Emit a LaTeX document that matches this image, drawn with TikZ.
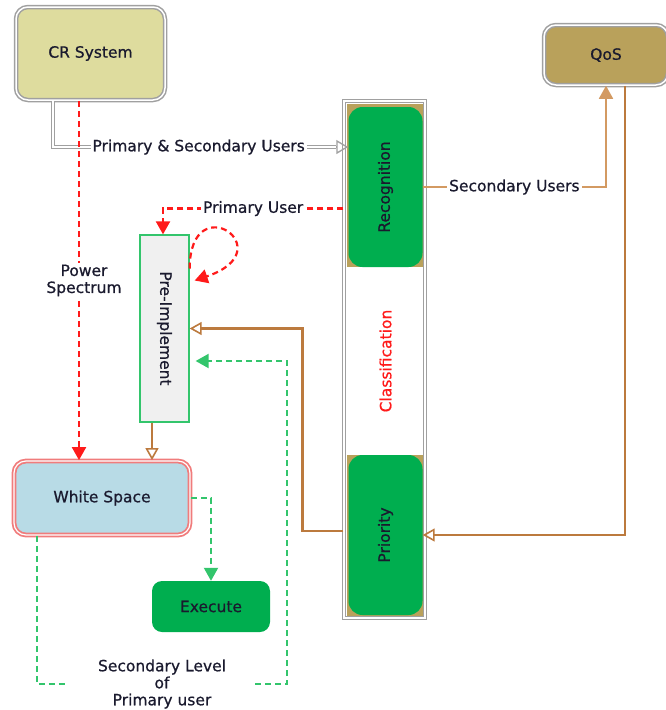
\documentclass[tikz,border=0pt]{standalone}
\usepackage{fontspec}
\setmainfont{DejaVu Sans}[RawFeature={embolden=0.7}]
\usetikzlibrary{arrows.meta,calc}
\definecolor{crfill}{HTML}{DEDC9E}
\definecolor{tan}{HTML}{B9A15B}
\definecolor{grn}{HTML}{00AE4F}
\definecolor{prefill}{HTML}{F0F0F0}
\definecolor{wsfill}{HTML}{B8DBE6}
\definecolor{wsred}{HTML}{F07C7C}
\definecolor{brownc}{HTML}{BC7A3E}
\definecolor{brownl}{HTML}{D39A62}
\definecolor{greend}{HTML}{33C56C}
\definecolor{redc}{HTML}{FF1A1A}
\definecolor{txt}{HTML}{1A1A2E}
\definecolor{dgray}{HTML}{A0A0A0}
\begin{document}
\begin{tikzpicture}[x=1pt,y=-1pt,
  font=\fontsize{15.5}{18}\selectfont, text=txt,
  box/.style={rounded corners=12pt, align=center, inner sep=0pt, text=txt},
  dblgray/.style={draw=dgray, double=white, double distance=1.5pt, line width=1.5pt},
  reddash/.style={draw=redc, line width=2.2pt, dash pattern=on 6pt off 4pt},
  greendash/.style={draw=greend, line width=2pt, dash pattern=on 6pt off 4pt},
  brownline/.style={draw=brownc, line width=2.6pt},
  filltip/.style={-{Triangle[length=13pt,width=14pt]}},
  opentip/.style={-{Triangle[open,length=12pt,width=13pt,line width=1.6pt]}},
  lbl/.style={fill=white, inner sep=2pt, align=center, text=txt}
]
\useasboundingbox (0,0) rectangle (665,710);

% nodes
\node[box, dblgray, fill=crfill, minimum width=149pt, minimum height=93pt] (cr) at (90.5,53.5) {CR System};
\node[box, dblgray, fill=tan, minimum width=124pt, minimum height=60pt] (qos) at (606,55) {QoS};

\node[dblgray, fill=white, minimum width=81pt, minimum height=517pt, inner sep=0pt] (col) at (384.5,359.5) {};
\fill[tan] (346.5,103.5) rectangle (422.5,267);
\fill[tan] (346.5,455) rectangle (422.5,616);
\node[box, fill=grn, minimum width=74pt, minimum height=160pt, rounded corners=14pt] (rec) at (385.5,187) {};
\node[rotate=90, text=txt] at (rec.center) {Recognition};
\node[box, fill=grn, minimum width=74pt, minimum height=160pt, rounded corners=14pt] (pri) at (385.5,535) {};
\node[rotate=90, text=txt] at (pri.center) {Priority};
\node[rotate=90, text=redc] (cls) at (385.5,361) {Classification};

\node[draw=greend, line width=1.3pt, fill=prefill, minimum width=49pt, minimum height=187pt, inner sep=0pt] (pre) at (164.5,328.5) {};
\node[rotate=-90, text=txt] at (pre.center) {Pre-Implement};

\node[box, draw=wsred, line width=1.8pt, double=white, double distance=1.2pt, fill=wsfill, minimum width=176pt, minimum height=74pt] (ws) at (102,498) {White Space};
\node[box, fill=grn, rounded corners=10pt, minimum width=118pt, minimum height=51pt] (ex) at (211,606.5) {Execute};

\node[lbl, minimum width=186pt, inner sep=1pt] (lvl) at (162,684) {Secondary Level\\[-1pt]of\\[-1pt]Primary user};

% connectors
\draw[dblgray] ([xshift=-37.5pt]cr.south) |- ([xshift=-12pt,yshift=40pt]rec.west)
  node[lbl, pos=0.75, xshift=4pt] {Primary \& Secondary Users};
\draw[draw=dgray, line width=1.3pt, -{Triangle[open,length=12pt,width=14pt,line width=1.3pt]}] ([xshift=-12pt,yshift=40pt]rec.west) -- ([yshift=40pt]rec.west);

\draw[reddash, filltip, redc] ([xshift=-11.5pt]cr.south) -- ([xshift=-11.5pt]cr.south |- ws.north)
  node[lbl, pos=0.5, xshift=5pt] {Power\\[-1pt]Spectrum};

\draw[reddash, filltip, redc] ([yshift=151pt]col.west) -| ([xshift=-1.5pt]pre.north)
  node[lbl, pos=0.25] {Primary User};

\draw[reddash, filltip, redc] ([yshift=60pt]pre.east) .. controls (190,185) and (285,250) .. ([xshift=5pt,yshift=48pt]pre.east);

\draw[brownline, opentip, brownc] ($(col.west |- pri.west)+(0,-4)$) -- ++(-41,0) |- (pre.east);

\draw[greendash] ([xshift=-65pt]ws.south) |- (lvl.west);
\draw[greendash, filltip, greend] (lvl.east) -- ++(32,0) |- ([xshift=6pt,yshift=-32.5pt]pre.east);

\draw[greendash, filltip, greend] (ws.east) -| (ex.north);

\draw[brownline, opentip, brownc] ([xshift=-12.5pt]pre.south) -- ([xshift=-12.5pt]pre.south |- ws.north);

\draw[draw=brownl, line width=1.8pt, filltip, brownl] (rec.east) -| (qos.south)
  node[lbl, pos=0.25] {Secondary Users};

\draw[brownline, opentip, brownc] ([xshift=19pt]qos.south) |- (pri.east);
\end{tikzpicture}
\end{document}
